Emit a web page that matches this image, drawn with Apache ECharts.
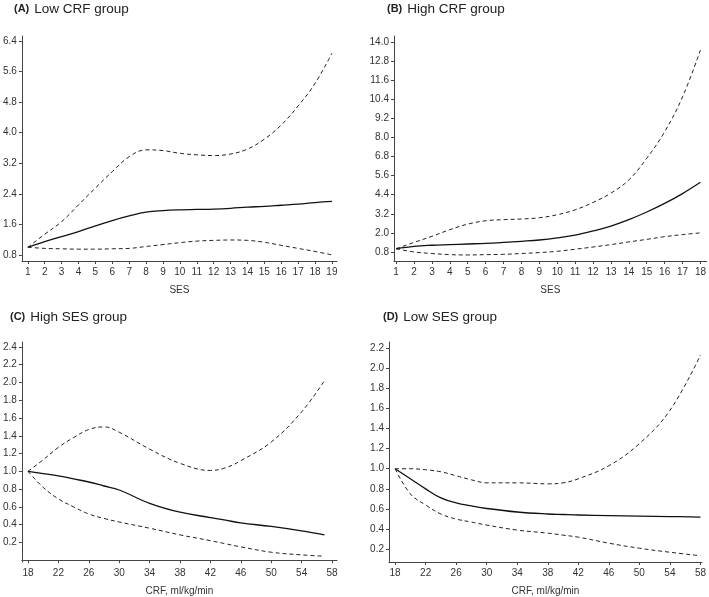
<!DOCTYPE html>
<html>
<head>
<meta charset="utf-8">
<script src="https://cdn.jsdelivr.net/npm/echarts@6/dist/echarts.min.js"></script>
<style>
  html, body { margin: 0; padding: 0; background: #fff; }
  #chart { width: 709px; height: 597px; }
</style>
</head>
<body>
<div id="chart"></div>
<script>
// panel A: low CRF group, x = SES 1..19
var sesA = [1, 2, 3, 4, 5, 6, 7, 8, 9, 10, 11, 12, 13, 14, 15, 16, 17, 18, 19]
var estA = [1.0, 1.15, 1.28, 1.41, 1.56, 1.70, 1.82, 1.92, 1.96, 1.98, 1.99, 2.0, 2.02, 2.05, 2.07, 2.10, 2.13, 2.17, 2.20]
var upA = [1.0, 1.34, 1.67, 2.11, 2.55, 2.98, 3.37, 3.55, 3.53, 3.46, 3.42, 3.40, 3.44, 3.57, 3.83, 4.20, 4.70, 5.29, 6.08]
var loA = [1.0, 0.97, 0.96, 0.95, 0.95, 0.96, 0.97, 1.02, 1.07, 1.12, 1.16, 1.18, 1.19, 1.18, 1.13, 1.05, 0.97, 0.89, 0.80]
var yTicksA = [0.8, 1.6, 2.4, 3.2, 4.0, 4.8, 5.6, 6.4]

// panel B: high CRF group, x = SES 1..18
var sesB = [1, 2, 3, 4, 5, 6, 7, 8, 9, 10, 11, 12, 13, 14, 15, 16, 17, 18]
var estB = [1.0, 1.15, 1.22, 1.26, 1.30, 1.34, 1.40, 1.47, 1.55, 1.68, 1.86, 2.12, 2.43, 2.83, 3.31, 3.85, 4.47, 5.18]
var upB = [1.0, 1.4, 1.78, 2.2, 2.55, 2.76, 2.83, 2.87, 2.95, 3.14, 3.45, 3.91, 4.50, 5.33, 6.69, 8.36, 10.55, 13.5]
var loB = [1.0, 0.8, 0.70, 0.63, 0.61, 0.63, 0.65, 0.70, 0.76, 0.84, 0.97, 1.11, 1.26, 1.43, 1.59, 1.76, 1.89, 2.0]
var yTicksB = [0.8, 2.0, 3.2, 4.4, 5.6, 6.8, 8.0, 9.2, 10.4, 11.6, 12.8, 14.0]

// panel C: high SES group, x = CRF
var crfC = [18, 20, 22, 24, 26, 28, 30, 34, 38, 42, 44, 46, 50, 54, 57]
var estC = [1.0, 0.975, 0.95, 0.915, 0.88, 0.835, 0.79, 0.64, 0.54, 0.48, 0.45, 0.42, 0.38, 0.33, 0.285]
var upC = [1.0, 1.13, 1.27, 1.38, 1.47, 1.50, 1.44, 1.25, 1.09, 1.01, 1.04, 1.12, 1.33, 1.67, 2.02]
var loC = [1.0, 0.82, 0.69, 0.60, 0.52, 0.47, 0.43, 0.36, 0.285, 0.22, 0.185, 0.15, 0.09, 0.06, 0.045]
var yTicksC = [0.2, 0.4, 0.6, 0.8, 1.0, 1.2, 1.4, 1.6, 1.8, 2.0, 2.2, 2.4]

// panel D: low SES group, x = CRF
var crfD = [18, 20, 22, 24, 26, 28, 30, 34, 38, 40, 42, 46, 50, 54, 58]
var estD = [1.0, 0.90, 0.80, 0.71, 0.66, 0.63, 0.605, 0.57, 0.55, 0.545, 0.54, 0.535, 0.53, 0.525, 0.52]
var upD = [1.0, 1.0, 0.99, 0.97, 0.93, 0.89, 0.86, 0.86, 0.85, 0.86, 0.90, 1.03, 1.25, 1.58, 2.13]
var loD = [1.0, 0.75, 0.64, 0.55, 0.50, 0.47, 0.44, 0.39, 0.36, 0.34, 0.32, 0.26, 0.21, 0.17, 0.135]
var yTicksD = [0.2, 0.4, 0.6, 0.8, 1.0, 1.2, 1.4, 1.6, 1.8, 2.0, 2.2]

var xTicksSES19 = sesA
var xTicksSES18 = sesB
var xTicksCRF = [18, 22, 26, 30, 34, 38, 42, 46, 50, 54, 58]

var font = 'Liberation Sans'
var axisColor = '#444'

function zip(xs, ys) {
  return xs.map(function (x, i) { return [x, ys[i]] })
}

function xAxisOf(idx, min, max, ticks, name) {
  return {
    type: 'value', gridIndex: idx, min: min, max: max,
    name: name, nameLocation: 'middle', nameGap: 24,
    nameTextStyle: { fontFamily: font, fontSize: 10, color: '#333' },
    axisLine: { lineStyle: { color: axisColor, width: 1 } },
    axisTick: { customValues: ticks, length: 3, lineStyle: { color: axisColor } },
    axisLabel: { customValues: ticks, fontFamily: font, fontSize: 10, color: '#333', margin: 6 },
    splitLine: { show: false }
  }
}

function yAxisOf(idx, min, max, ticks, digits) {
  return {
    type: 'value', gridIndex: idx, min: min, max: max,
    axisLine: { show: true, lineStyle: { color: axisColor, width: 1 } },
    axisTick: { show: true, customValues: ticks, length: 3, lineStyle: { color: axisColor } },
    axisLabel: {
      customValues: ticks, fontFamily: font, fontSize: 10, color: '#333', margin: 5,
      formatter: function (v) { return v.toFixed(digits) }
    },
    splitLine: { show: false }
  }
}

function lines(idx, xs, est, up, lo) {
  var base = { type: 'line', xAxisIndex: idx, yAxisIndex: idx, showSymbol: false, smooth: 0.4, silent: true }
  return [
    Object.assign({}, base, { data: zip(xs, est), lineStyle: { color: '#111', width: 1.3 } }),
    Object.assign({}, base, { data: zip(xs, up), lineStyle: { color: '#222', width: 1, type: [4, 3] } }),
    Object.assign({}, base, { data: zip(xs, lo), lineStyle: { color: '#222', width: 1, type: [4, 3] } })
  ]
}

function titleOf(letter, text, left, top) {
  return {
    text: '{b|(' + letter + ')} {t|' + text + '}',
    left: left, top: top,
    textStyle: {
      fontWeight: 'normal',
      rich: {
        b: { fontFamily: font, fontSize: 11, fontWeight: 'bold', color: '#222' },
        t: { fontFamily: font, fontSize: 13.5, fontWeight: 'normal', color: '#222' }
      }
    }
  }
}

var option = {
  animation: false,
  backgroundColor: '#fff',
  title: [
    titleOf('A', 'Low CRF group', 9, -5),
    titleOf('B', 'High CRF group', 382, -5),
    titleOf('C', 'High SES group', 5, 303),
    titleOf('D', 'Low SES group', 378, 303)
  ],
  grid: [
    { left: 19, top: 36, width: 318, height: 225 },
    { left: 394, top: 36, width: 314, height: 225 },
    { left: 18, top: 342, width: 319, height: 224 },
    { left: 389, top: 342, width: 319, height: 224 }
  ],
  xAxis: [
    xAxisOf(0, 0.65, 19.3, xTicksSES19, 'SES'),
    xAxisOf(1, 0.88, 18.35, xTicksSES18, 'SES'),
    xAxisOf(2, 17.2, 58.65, xTicksCRF, 'CRF, ml/kg/min'),
    xAxisOf(3, 17.2, 58.2, xTicksCRF, 'CRF, ml/kg/min')
  ],
  yAxis: [
    yAxisOf(0, 0.64, 6.53, yTicksA, 1),
    yAxisOf(1, 0.23, 14.38, yTicksB, 1),
    yAxisOf(2, -0.02, 2.455, yTicksC, 1),
    yAxisOf(3, 0.073, 2.26, yTicksD, 1)
  ],
  series: []
    .concat(lines(0, sesA, estA, upA, loA))
    .concat(lines(1, sesB, estB, upB, loB))
    .concat(lines(2, crfC, estC, upC, loC))
    .concat(lines(3, crfD, estD, upD, loD))
}

var mCharts = echarts.init(document.getElementById('chart'))
mCharts.setOption(option)
</script>
</body>
</html>
